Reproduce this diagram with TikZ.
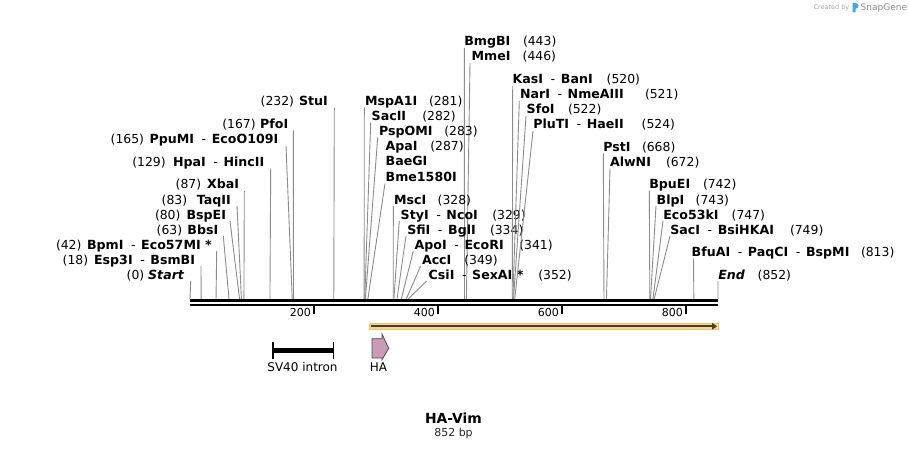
\documentclass[tikz,border=0pt]{standalone}
\usepackage{fontspec}
\setmainfont{DejaVu Sans}
\usetikzlibrary{arrows.meta}
\definecolor{sitegray}{HTML}{8C8C8C}
\definecolor{bandfill}{HTML}{FDD38A}
\definecolor{banddraw}{HTML}{F8C56E}
\definecolor{hafill}{HTML}{C99BB8}
\definecolor{logoblue}{HTML}{45A8E2}
\tikzset{
  nm/.style={inner sep=0pt, outer sep=0pt, font=\fontsize{12.6}{14}\selectfont\bfseries},
  num/.style={inner sep=0pt, outer sep=0pt, font=\fontsize{12.4}{14}\selectfont},
  siteline/.style={draw=sitegray, line width=0.9pt},
  ticklbl/.style={inner sep=0pt, outer sep=0pt, font=\fontsize{11}{12}\selectfont},
  featlbl/.style={inner sep=0pt, outer sep=0pt, font=\fontsize{12}{13}\selectfont},
}
\newcommand\hy{\hspace{0.6em}{\mdseries -}\hspace{0.45em}}
% left label: id, pos, name, number x (start), name x (end), y centre, line top x
\newcommand\leftsite[7]{%
  \node[num, anchor=base west] (#1n) at ({#4},{#6+4.5}) {(#2)};
  \node[nm, anchor=base east] (#1) at ({#5},{#6+4.5}) {#3};
  \coordinate (#1t) at ({#7},{#6+6.5});
  \coordinate (#1s) at ({190+#2*0.61972},299);
  \draw[siteline] (#1t) -- (#1s);}
% right label: id, pos, name, name x (start), number x, y centre, line top x
\newcommand\rightsite[7]{%
  \node[nm, anchor=base west] (#1) at ({#4},{#6+4.5}) {#3};
  \node[num, anchor=base west] (#1n) at ({#5},{#6+4.5}) {(#2)};
  \coordinate (#1t) at ({#7},{#6+6.5});
  \coordinate (#1s) at ({190+#2*0.61972},299);
  \draw[siteline] (#1t) -- (#1s);}
\begin{document}
\begin{tikzpicture}[x=1pt,y=-1pt]
\useasboundingbox (0,0) rectangle (909,449);
\fill[white] (0,0) rectangle (909,449);

% left-hand sites
\leftsite{stu}{232}{StuI}{260.7}{327.8}{101.5}{334.3}
\leftsite{pfo}{167}{PfoI}{222.3}{288.3}{124}{293.3}
\leftsite{ppu}{165}{PpuMI\hy EcoO109I}{110.7}{278.3}{139.5}{286}
\leftsite{hpa}{129}{HpaI\hy HincII}{132.3}{264.3}{162}{270.7}
\leftsite{xba}{87}{XbaI}{175.7}{239}{184.5}{244.3}
\leftsite{taq}{83}{TaqII}{161.7}{230.7}{199.5}{237}
\leftsite{bspe}{80}{BspEI}{155}{226}{214.5}{230}
\leftsite{bbs}{63}{BbsI}{156.7}{218.3}{229.5}{223.3}
\leftsite{bpm}{42}{BpmI\hy Eco57MI *}{56}{211.7}{244.5}{216.7}
\leftsite{esp}{18}{Esp3I\hy BsmBI}{62.7}{195}{259.5}{201}
\leftsite{start}{0}{\itshape Start}{126.7}{184}{274.5}{190.7}

% middle sites
\rightsite{bmg}{443}{BmgBI}{464.3}{523}{41.5}{464.3}
\rightsite{mme}{446}{MmeI}{471.7}{522.7}{56.5}{470}
\rightsite{mspa}{281}{MspA1I}{365}{429}{101}{364.3}
\rightsite{sactwo}{282}{SacII}{371.7}{422.3}{116}{370.7}
\rightsite{pspo}{283}{PspOMI}{379}{444.3}{131}{377.7}
\node[nm, anchor=base west] (apa) at (385.7,151) {ApaI};
\node[num, anchor=base west] (apan) at (430.3,151) {(287)};
\node[nm, anchor=base west] (baeg) at (385.7,166) {BaeGI};
\node[nm, anchor=base west] (bme) at (385.7,181) {Bme1580I};
\coordinate (bmet) at (385,183.5);
\coordinate (apas) at ({190+287*0.61972},299);
\draw[siteline] (bmet) -- (apas);
\rightsite{msc}{328}{MscI}{394}{437.7}{199.5}{393.3}
\rightsite{sty}{329}{StyI\hy NcoI}{400.7}{492.3}{214.5}{399.3}
\rightsite{sfi}{334}{SfiI\hy BglI}{407.3}{490}{229.5}{406}
\rightsite{apo}{341}{ApoI\hy EcoRI}{414.7}{519.3}{244.5}{413.3}
\rightsite{acc}{349}{AccI}{422}{464.3}{259.5}{420.7}
\rightsite{csi}{352}{CsiI\hy SexAI *}{428.7}{538.3}{274.5}{426.7}

% right-hand sites
\rightsite{kas}{520}{KasI\hy BanI}{512.7}{606.7}{79.5}{512.7}
\rightsite{nar}{521}{NarI\hy NmeAIII}{520}{645}{94.5}{519.3}
\rightsite{sfo}{522}{SfoI}{526.7}{568}{109.5}{526}
\rightsite{plu}{524}{PluTI\hy HaeII}{533.3}{641.7}{124.5}{533}
\rightsite{pst}{668}{PstI}{603.3}{642}{147}{603.3}
\rightsite{alw}{672}{AlwNI}{610}{666}{162}{610}
\rightsite{bpu}{742}{BpuEI}{649.3}{703}{184.5}{649.3}
\rightsite{blp}{743}{BlpI}{656.7}{695.7}{199.5}{656}
\rightsite{ecofs}{747}{Eco53kI}{663.3}{731.7}{214.5}{663}
\rightsite{saci}{749}{SacI\hy BsiHKAI}{670.3}{790}{229.5}{670}
\rightsite{bfu}{813}{BfuAI\hy PaqCI\hy BspMI}{691.7}{861}{252}{693.5}
\rightsite{end}{852}{\itshape End}{718.3}{757.7}{274.5}{718}

% backbone
\coordinate (bbl) at (190,300.6);
\coordinate (bbr) at (718,300.6);
\coordinate (bbl2) at (190,305);
\coordinate (bbr2) at (718,305);
\draw[line width=3.2pt] (bbl) -- (bbr);
\draw[line width=2.4pt] (bbl2) -- (bbr2);

% ticks
\coordinate (tka) at ({190+200*0.61972},305);
\coordinate (tkb) at ({190+400*0.61972},305);
\coordinate (tkc) at ({190+600*0.61972},305);
\coordinate (tkd) at ({190+800*0.61972},305);
\foreach \t in {tka,tkb,tkc,tkd} {\draw[line width=1.6pt] (\t) -- ++(0,8.5);}
\node[ticklbl, anchor=east] (lta) at ([xshift=-3pt,yshift=-7pt]tka) {200};
\node[ticklbl, anchor=east] (ltb) at ([xshift=-3pt,yshift=-7pt]tkb) {400};
\node[ticklbl, anchor=east] (ltc) at ([xshift=-3pt,yshift=-7pt]tkc) {600};
\node[ticklbl, anchor=east] (ltd) at ([xshift=-3pt,yshift=-7pt]tkd) {800};

% orange ORF arrow
\coordinate (orfs) at (369.3,326.3);
\coordinate (orfe) at (718,326.3);
\filldraw[fill=bandfill, draw=banddraw, line width=0.6pt] (369.3,323.3) rectangle (718,329.3);
\draw[line width=1.7pt, draw=black!75, -{Triangle[length=5pt,width=6.5pt]}] ([xshift=2pt]orfs) -- ([xshift=-1pt]orfe);

% HA feature
\filldraw[fill=hafill, draw=black!70, line width=0.8pt]
  (372,338.7) -- (382,338.7) -- (382,334) -- (388.7,348.3) -- (382,359.7) -- (382,358) -- (372,358) -- cycle;
\node[featlbl] (halbl) at (378.5,367.5) {HA};

% SV40 intron
\coordinate (sva) at (273.1,350);
\coordinate (svb) at (333.4,350);
\draw[line width=5pt] (sva) -- (svb);
\draw[line width=1.5pt] (273.1,341.7) -- (273.1,358.5);
\draw[line width=1.5pt] (333.4,341.7) -- (333.4,358.5);
\node[featlbl] (svlbl) at (302.5,367.5) {SV40 intron};

% title
\node[inner sep=0pt, font=\fontsize{13.9}{15}\selectfont\bfseries] (title) at (453.5,418.3) {HA-Vim};
\node[inner sep=0pt, font=\fontsize{11}{12}\selectfont, text=black!85] (len) at (453.5,433) {852 bp};

% Created by SnapGene
\node[inner sep=0pt, anchor=base east, font=\fontsize{6.5}{7}\selectfont, text=black!35] (cby) at (849.5,10) {Created by};
\fill[logoblue] (852.5,3) -- (855.5,3) .. controls (859.5,3) and (859.5,8.5) .. (855.8,8.5) -- (855.5,8.5) -- (855.5,12.5) -- (852.5,12.5) -- cycle;
\node[inner sep=0pt, anchor=base west, font=\fontsize{9}{10}\selectfont, text=black!45] (sg) at (860.5,11) {SnapGene};
\end{tikzpicture}
\end{document}
